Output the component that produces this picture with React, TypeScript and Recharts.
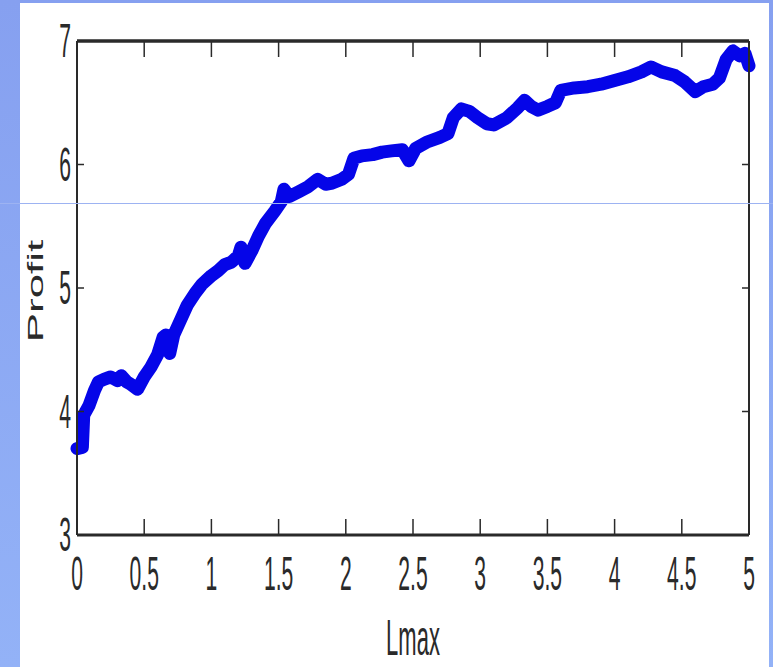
import { LineChart, Line, XAxis, YAxis, Label } from 'recharts';

// Lmax sweep (x) and the profit (y)
const lmax = [
  0, 0.04, 0.05, 0.09, 0.13, 0.16, 0.2, 0.25, 0.3, 0.33, 0.37, 0.4, 0.45, 0.5, 0.55, 0.6,
  0.64, 0.66, 0.69, 0.72, 0.77, 0.82, 0.88, 0.93, 1.0, 1.05, 1.1, 1.15, 1.2, 1.22, 1.25,
  1.3, 1.35, 1.4, 1.47, 1.52, 1.54, 1.58, 1.65, 1.72, 1.79, 1.85, 1.9, 1.97, 2.02, 2.06,
  2.12, 2.2, 2.27, 2.34, 2.42, 2.47, 2.52, 2.6, 2.7, 2.76, 2.8, 2.86, 2.92, 2.98, 3.05,
  3.1, 3.2, 3.28, 3.33, 3.38, 3.43, 3.5, 3.56, 3.6, 3.7, 3.8, 3.9, 4.0, 4.1, 4.2, 4.27,
  4.35, 4.45, 4.52, 4.6, 4.66, 4.73, 4.78, 4.83, 4.88, 4.93, 4.97, 5.0,
];
const profit = [
  3.7, 3.71, 3.97, 4.05, 4.17, 4.24, 4.26, 4.28, 4.25, 4.29, 4.24, 4.22, 4.18, 4.28, 4.36, 4.46,
  4.6, 4.62, 4.47, 4.62, 4.74, 4.86, 4.96, 5.03, 5.1, 5.14, 5.19, 5.21, 5.26, 5.33, 5.2,
  5.3, 5.42, 5.52, 5.62, 5.7, 5.8, 5.74, 5.78, 5.82, 5.88, 5.84, 5.85, 5.88, 5.92, 6.05,
  6.07, 6.08, 6.1, 6.11, 6.12, 6.03, 6.13, 6.18, 6.22, 6.25, 6.38, 6.45, 6.43, 6.38, 6.33,
  6.32, 6.38, 6.46, 6.52, 6.47, 6.44, 6.47, 6.5, 6.6, 6.62, 6.63, 6.65, 6.68, 6.71, 6.75, 6.79,
  6.75, 6.72, 6.67, 6.59, 6.63, 6.65, 6.7, 6.85, 6.92, 6.88, 6.9, 6.8,
];
const xTicks = [0, 0.5, 1, 1.5, 2, 2.5, 3, 3.5, 4, 4.5, 5];
const yTicks = [3, 4, 5, 6, 7];

const data = lmax.map((x, i) => ({ x, y: profit[i] }));

const INK = '#2a2a2a';
const FONT = 'Arial, "Liberation Sans", sans-serif';
const SQUEEZE = 0.44; // the source picture is squashed sideways
const FS = 48;

function BottomTick({ x, y, payload }: any) {
  return (
    <g>
      <line x1={x} y1={y} x2={x} y2={y - 16} stroke={INK} strokeWidth={1.5} />
      <text
        transform={`translate(${x},${y + 55}) scale(${SQUEEZE},1)`}
        textAnchor="middle"
        fontSize={FS}
        fill={INK}
        fontFamily={FONT}
      >
        {payload.value}
      </text>
    </g>
  );
}

function TopTick({ x, y }: any) {
  return <line x1={x} y1={y} x2={x} y2={y + 16} stroke={INK} strokeWidth={1.5} />;
}

function LeftTick({ x, y, payload }: any) {
  return (
    <g>
      <line x1={x} y1={y} x2={x + 7} y2={y} stroke={INK} strokeWidth={1.5} />
      <text
        transform={`translate(${x - 6},${y + 16}) scale(${SQUEEZE},1)`}
        textAnchor="end"
        fontSize={FS}
        fill={INK}
        fontFamily={FONT}
      >
        {payload.value}
      </text>
    </g>
  );
}

function RightTick({ x, y }: any) {
  return <line x1={x} y1={y} x2={x - 7} y2={y} stroke={INK} strokeWidth={1.5} />;
}

export default function App() {
  return (
    <div
      style={{
        position: 'absolute',
        left: 0,
        top: 0,
        width: 773,
        height: 667,
        background: 'linear-gradient(180deg, #86a0f0 0%, #93b2f7 100%)',
        overflow: 'hidden',
      }}
    >
      <div
        style={{ position: 'absolute', left: 20, top: 3, width: 749, height: 664, background: '#fff' }}
      />
      <div style={{ position: 'absolute', left: 0, top: 0 }}>
        <LineChart width={773} height={667} data={data} margin={{ top: 40, right: 23, bottom: 0, left: 0 }}>
          <XAxis
            dataKey="x"
            type="number"
            domain={[0, 5]}
            ticks={xTicks}
            interval={0}
            height={132}
            tickSize={0}
            tickMargin={0}
            tickLine={false}
            axisLine={{ stroke: INK, strokeWidth: 3 }}
            tick={<BottomTick />}
          >
            <Label
              content={({ viewBox }: any) => (
                <text
                  transform={`translate(${viewBox.x + viewBox.width / 2},${viewBox.y + 120}) scale(${SQUEEZE},1)`}
                  textAnchor="middle"
                  fontSize={50}
                  fill={INK}
                  fontFamily={FONT}
                >
                  Lmax
                </text>
              )}
            />
          </XAxis>
          <XAxis
            xAxisId="top"
            orientation="top"
            dataKey="x"
            type="number"
            domain={[0, 5]}
            ticks={xTicks}
            interval={0}
            height={1}
            tickSize={0}
            tickMargin={0}
            tickLine={false}
            axisLine={{ stroke: INK, strokeWidth: 3.5 }}
            tick={<TopTick />}
          />
          <YAxis
            type="number"
            domain={[3, 7]}
            ticks={yTicks}
            interval={0}
            width={77}
            tickSize={0}
            tickMargin={0}
            tickLine={false}
            axisLine={{ stroke: INK, strokeWidth: 2 }}
            tick={<LeftTick />}
          >
            <Label
              content={({ viewBox }: any) => (
                <text
                  transform={`translate(${viewBox.x + 35},${viewBox.y + viewBox.height / 2 + 3}) rotate(-90) scale(1,0.5)`}
                  textAnchor="middle"
                  dominantBaseline="central"
                  fontSize={44}
                  fill={INK}
                  fontFamily={FONT}
                >
                  Profit
                </text>
              )}
            />
          </YAxis>
          <YAxis
            yAxisId="right"
            orientation="right"
            type="number"
            domain={[3, 7]}
            ticks={yTicks}
            interval={0}
            width={1}
            tickSize={0}
            tickMargin={0}
            tickLine={false}
            axisLine={{ stroke: INK, strokeWidth: 2 }}
            tick={<RightTick />}
          />
          {/* invisible copy so the top and right frame axes get drawn */}
          <Line
            xAxisId="top"
            yAxisId="right"
            dataKey="y"
            stroke="none"
            dot={false}
            activeDot={false}
            isAnimationActive={false}
          />
          <Line
            dataKey="y"
            type="linear"
            stroke="#0505e8"
            strokeWidth={13}
            strokeLinejoin="round"
            strokeLinecap="round"
            dot={false}
            isAnimationActive={false}
          />
        </LineChart>
      </div>
      <div
        style={{ position: 'absolute', left: 0, top: 203, width: 773, height: 1, background: '#9db3f2' }}
      />
    </div>
  );
}
